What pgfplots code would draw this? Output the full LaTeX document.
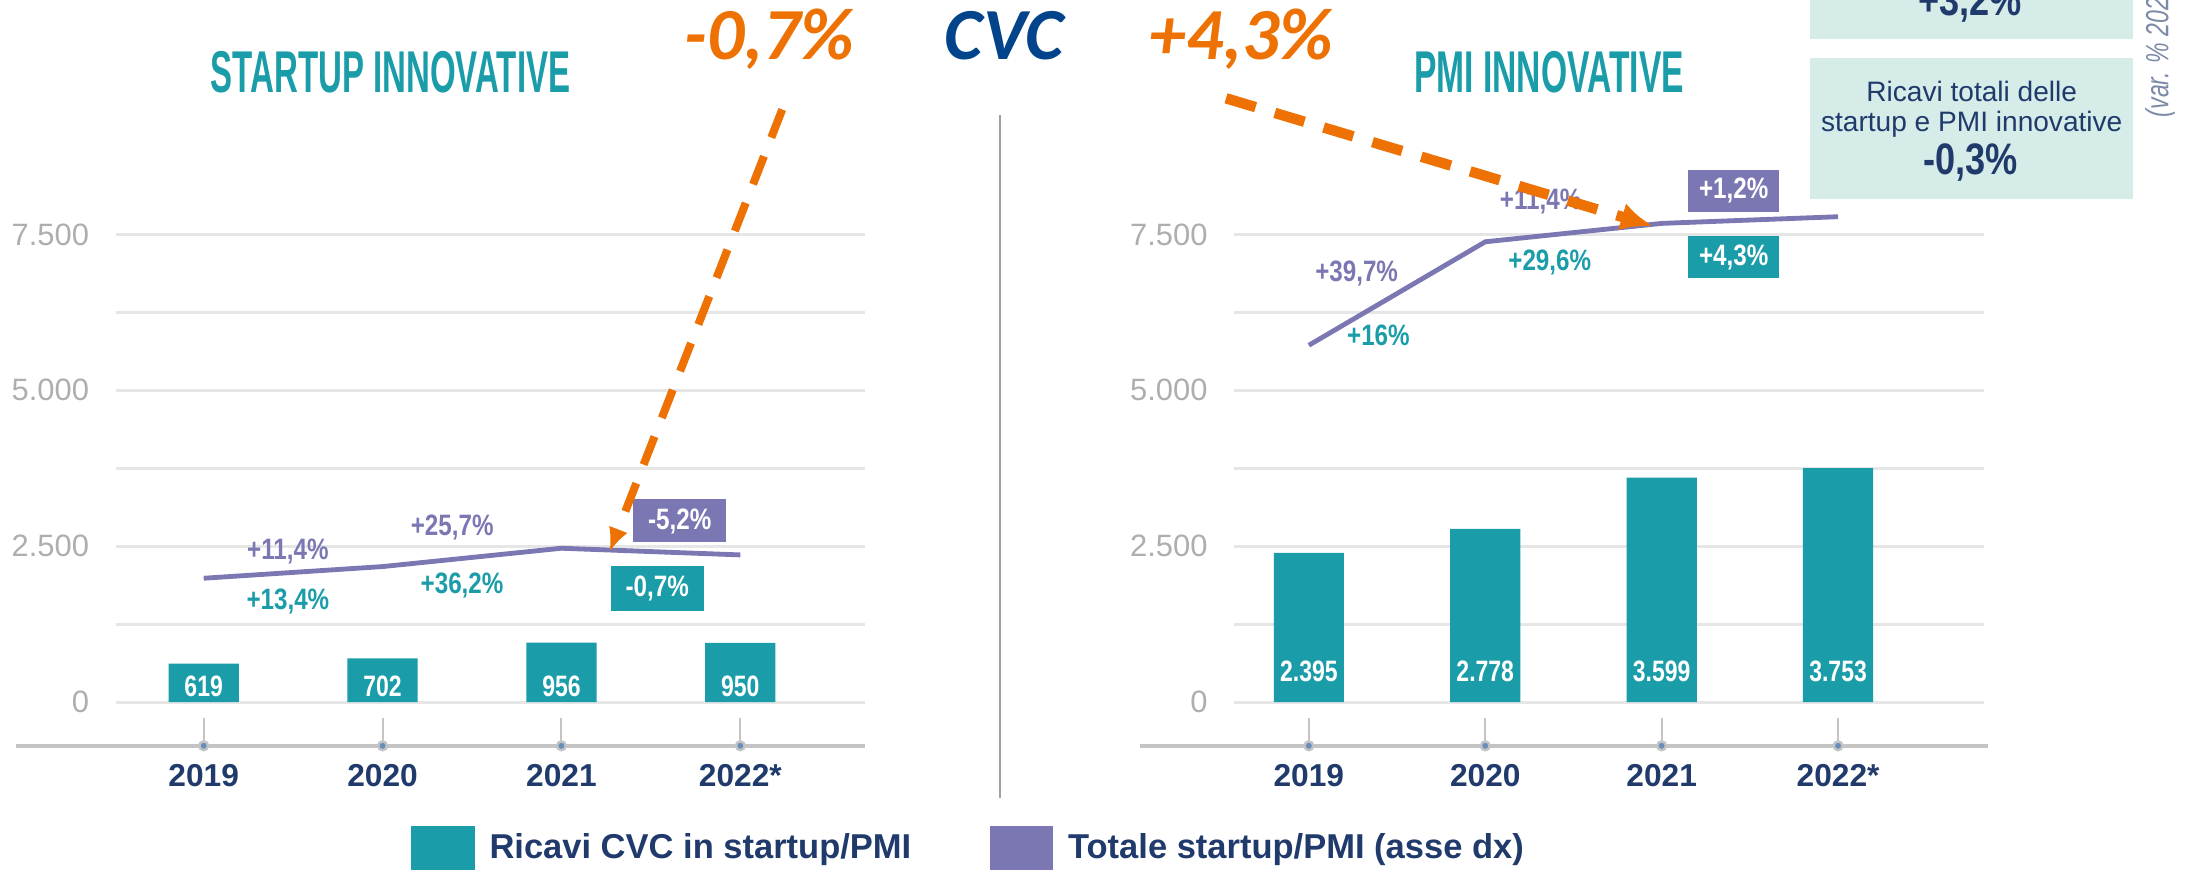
\documentclass[border=0pt]{standalone}
\usepackage{pgfplots}
\pgfplotsset{compat=1.18}
\usepackage{graphicx}
\usepackage{fontspec}
\setmainfont{Liberation Sans}
\newfontfamily\calfont{Carlito}
\usetikzlibrary{arrows.meta}
\definecolor{cteal}{HTML}{1A9DA9}
\definecolor{cpurp}{HTML}{7A77B3}
\definecolor{cnavy}{HTML}{1F3A6B}
\definecolor{cmint}{HTML}{D6ECE8}
\definecolor{corange}{HTML}{EE7203}
\definecolor{cblue}{HTML}{01448B}
\definecolor{cgrid}{HTML}{E6E6E6}
\definecolor{ctick}{HTML}{AEAEAE}
\definecolor{csep}{HTML}{A0A0A0}
\definecolor{ctime}{HTML}{C4C4C4}
\definecolor{crot}{HTML}{7D8AA6}
\newcommand\cond[2]{\scalebox{#1}[1]{#2}}
\newcommand\annfont{\bfseries\fontsize{7.35}{8}\selectfont}
\begin{document}
\begin{tikzpicture}
\useasboundingbox (0,0) rectangle (548.8pt,216.65pt);
\pgfplotsset{panel/.style={
  at={(#1,30.77pt)}, anchor=south west, scale only axis,
  width=186.8pt, height=143pt,
  ymin=-700, ymax=8500,
  ytick={0,2500,5000,7500}, minor ytick={1250,3750,6250},
  yticklabels={0,2.500,5.000,7.500},
  ymajorgrids, yminorgrids,
  major grid style={cgrid, line width=0.7pt},
  minor grid style={cgrid, line width=0.7pt},
  axis line style={draw=none},
  ytick style={draw=none},
  minor tick length=0pt,
  xtick={0,1,2,3},
  xticklabels={2019,2020,2021,2022*},
  xtick pos=left,
  tick align=inside,
  major tick length=7pt,
  xtick style={ctime, line width=0.5pt},
  xticklabel style={font=\bfseries\fontsize{7.9}{9}\selectfont, text=cnavy, inner sep=0pt, anchor=north, yshift=-4.5pt},
  yticklabel style={font=\fontsize{7.7}{9}\selectfont, text=ctick, inner sep=0pt, anchor=east, xshift=-6.5pt},
  clip=false,
}}
% ---------- left panel: startup innovative
\begin{axis}[panel=28.875pt, xmin=-0.491, xmax=3.699]
\draw[ctime, line width=1pt] (axis cs:-1.052,-700) -- (axis cs:3.699,-700);
\addplot[ybar, bar width=17.5pt, bar shift=0pt, fill=cteal, draw=none] coordinates {(0,619) (1,702) (2,956) (3,950)};
\addplot[cpurp, line width=1.2pt, mark=none] coordinates {(0,1987) (1,2174) (2,2468) (3,2361)};
\addplot[only marks, mark=*, mark size=1.1pt, mark options={fill=cblue!60, draw=ctime, line width=0.6pt}] coordinates {(0,-700) (1,-700) (2,-700) (3,-700)};
\node[text=white, font=\annfont, inner sep=0] at (axis cs:0,250) {\cond{0.78}{619}};
\node[text=white, font=\annfont, inner sep=0] at (axis cs:1,250) {\cond{0.78}{702}};
\node[text=white, font=\annfont, inner sep=0] at (axis cs:2,250) {\cond{0.78}{956}};
\node[text=white, font=\annfont, inner sep=0] at (axis cs:3,250) {\cond{0.78}{950}};
\end{axis}
% ---------- right panel: PMI innovative
\begin{axis}[panel=307.65pt, xmin=-0.422, xmax=3.827]
\draw[ctime, line width=1pt] (axis cs:-0.955,-700) -- (axis cs:3.851,-700);
\addplot[ybar, bar width=17.5pt, bar shift=0pt, fill=cteal, draw=none] coordinates {(0,2395) (1,2778) (2,3599) (3,3753)};
\addplot[cpurp, line width=1.2pt, mark=none] coordinates {(0,5723) (1,7382) (2,7677) (3,7784)};
\addplot[only marks, mark=*, mark size=1.1pt, mark options={fill=cblue!60, draw=ctime, line width=0.6pt}] coordinates {(0,-700) (1,-700) (2,-700) (3,-700)};
\node[text=white, font=\annfont, inner sep=0] at (axis cs:0,495) {\cond{0.78}{2.395}};
\node[text=white, font=\annfont, inner sep=0] at (axis cs:1,495) {\cond{0.78}{2.778}};
\node[text=white, font=\annfont, inner sep=0] at (axis cs:2,495) {\cond{0.78}{3.599}};
\node[text=white, font=\annfont, inner sep=0] at (axis cs:3,495) {\cond{0.78}{3.753}};
\end{axis}
% ---------- overlay in display pixel coordinates (y downwards)
\begin{scope}[x=0.35pt, y=-0.35pt, shift={(0pt,216.65pt)}]
% titles
\node[anchor=base, text=cteal, font=\bfseries\fontsize{14.7}{15}\selectfont, inner sep=0] at (278,66) {\cond{0.56}{STARTUP INNOVATIVE}};
\node[anchor=base, text=cteal, font=\bfseries\fontsize{14.7}{15}\selectfont, inner sep=0] at (1103,66) {\cond{0.57}{PMI INNOVATIVE}};
% separator
\draw[csep, line width=0.7pt] (712,82) -- (712,568);
% left annotations
\node[text=cpurp, font=\annfont, inner sep=0] at (205,393) {\cond{0.82}{+11,4\%}};
\node[text=cteal, font=\annfont, inner sep=0] at (205,428.5) {\cond{0.82}{+13,4\%}};
\node[text=cpurp, font=\annfont, inner sep=0] at (322,375.5) {\cond{0.82}{+25,7\%}};
\node[text=cteal, font=\annfont, inner sep=0] at (329,417) {\cond{0.82}{+36,2\%}};
\fill[cpurp] (451,355) rectangle (517,386);
\node[text=white, font=\annfont, inner sep=0] at (484,371) {\cond{0.82}{-5,2\%}};
\fill[cteal] (435,403) rectangle (501,435);
\node[text=white, font=\annfont, inner sep=0] at (468,419) {\cond{0.82}{-0,7\%}};
% right annotations
\node[text=cpurp, font=\annfont, inner sep=0] at (966,194.5) {\cond{0.82}{+39,7\%}};
\node[text=cteal, font=\annfont, inner sep=0] at (981.5,239) {\cond{0.82}{+16\%}};
\node[text=cpurp, font=\annfont, inner sep=0] at (1097,143.5) {\cond{0.82}{+11,4\%}};
\node[text=cteal, font=\annfont, inner sep=0] at (1103.5,187) {\cond{0.82}{+29,6\%}};
\fill[cpurp] (1202,121) rectangle (1267,151);
\node[text=white, font=\annfont, inner sep=0] at (1234.5,136) {\cond{0.82}{+1,2\%}};
\fill[cteal] (1202,168) rectangle (1267,198);
\node[text=white, font=\annfont, inner sep=0] at (1234.5,183) {\cond{0.82}{+4,3\%}};
% orange headline
\node[anchor=base, inner sep=0, text=corange, font=\calfont\bfseries\itshape\fontsize{18.3}{20}\selectfont] at (548,42.5) {-0,7\%};
\node[anchor=base, inner sep=0, text=cblue, font=\calfont\bfseries\itshape\fontsize{18.3}{20}\selectfont] at (715,42.5) {CVC};
\node[anchor=base, inner sep=0, text=corange, font=\calfont\bfseries\itshape\fontsize{18.3}{20}\selectfont] at (884,42.5) {+4,3\%};
% arrows
\draw[corange, line width=2pt, dash pattern=on 7.5pt off 5pt, -{Latex[length=6pt,width=5pt]}] (557,78) -- (434,393);
\draw[corange, line width=2.6pt, dash pattern=on 7.7pt off 5pt, -{Latex[length=8pt,width=7pt]}] (873,70) -- (1177,161);
% right boxes
\fill[cmint] (1289,-5) rectangle (1519,28);
\fill[cmint] (1289,41) rectangle (1519,142);
\node[anchor=base, inner sep=0, text=cnavy, font=\bfseries\fontsize{11}{12}\selectfont] at (1403,10.7) {\cond{0.82}{+3,2\%}};
\node[anchor=base, inner sep=0, text=cnavy, font=\fontsize{7}{8}\selectfont] at (1404,72.5) {Ricavi totali delle};
\node[anchor=base, inner sep=0, text=cnavy, font=\fontsize{7}{8}\selectfont] at (1404,94) {startup e PMI innovative};
\node[anchor=base, inner sep=0, text=cnavy, font=\bfseries\fontsize{11}{12}\selectfont] at (1403,124.6) {\cond{0.82}{-0,3\%}};
\node[rotate=90, anchor=base west, inner sep=0, text=crot, font=\itshape\fontsize{8}{9}\selectfont] at (1544,84) {\cond{0.72}{(var. \% 2022/2021)}};
% legend
\fill[cteal] (293,588) rectangle (338,625);
\node[anchor=base west, inner sep=0, text=cnavy, font=\bfseries\fontsize{8.6}{9}\selectfont] at (348,611) {Ricavi CVC in startup/PMI};
\fill[cpurp] (705,588) rectangle (750,625);
\node[anchor=base west, inner sep=0, text=cnavy, font=\bfseries\fontsize{8.6}{9}\selectfont] at (760,611) {Totale startup/PMI (asse dx)};
\end{scope}
\end{tikzpicture}
\end{document}
